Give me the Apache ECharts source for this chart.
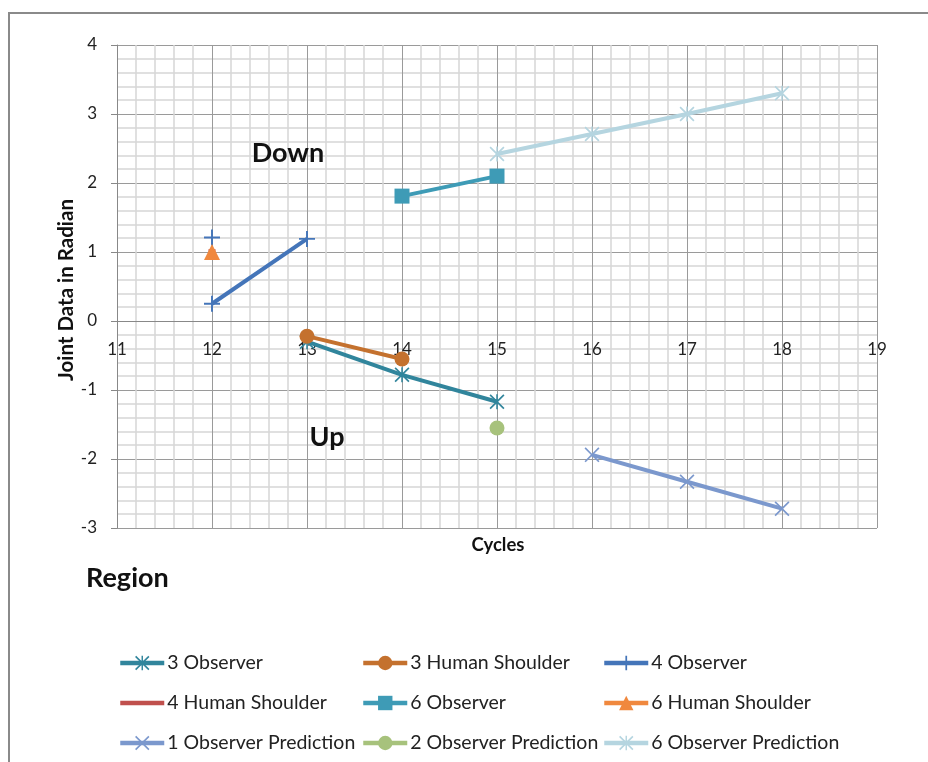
<!DOCTYPE html>
<html><head><meta charset="utf-8">
<script src="https://cdn.jsdelivr.net/npm/echarts@6/dist/echarts.min.js"></script>
<style>html,body{margin:0;padding:0;background:#fff}#c{width:928px;height:762px}</style>
</head><body><div id="c"></div>
<script>
// Data [cycle, radian]
var obs3 = [[13, -0.3], [14, -0.78], [15, -1.17]];
var human3 = [[13, -0.22], [14, -0.55]];
var obs4 = [[12, 1.21], null, [12, 0.25], [13, 1.19]];
var human4 = [[12, 0.99]];
var obs6 = [[14, 1.81], [15, 2.1]];
var human6 = [[12, 1.0]];
var pred1 = [[16, -1.94], [17, -2.33], [18, -2.72]];
var pred2 = [[15, -1.55]];
var pred6 = [[15, 2.42], [16, 2.71], [17, 3.0], [18, 3.3]];
var xTicks = [11, 12, 13, 14, 15, 16, 17, 18, 19];
var yTicks = [-3, -2, -1, 0, 1, 2, 3, 4];
var seriesNames = ['3 Observer', '3 Human Shoulder', '4 Observer', '4 Human Shoulder', '6 Observer', '6 Human Shoulder', '1 Observer Prediction', '2 Observer Prediction', '6 Observer Prediction'];

var PLUS = 'path://M4.4,0H5.6V4.4H10V5.6H5.6V10H4.4V5.6H0V4.4H4.4Z';
var XMARK = 'path://M0,0.8L0.8,0L5,4.2L9.2,0L10,0.8L5.8,5L10,9.2L9.2,10L5,5.8L0.8,10L0,9.2L4.2,5Z';
var STAR = 'path://M0,0.8L0.8,0L5,4.2L9.2,0L10,0.8L5.8,5L10,9.2L9.2,10L5,5.8L0.8,10L0,9.2L4.2,5ZM4.5,0H5.5V10H4.5Z';

var FONT = 'Lato';
function mk(name, data, color, symbol, size) {
  return {
    name: name, type: 'line', data: data, connectNulls: false,
    symbol: symbol, symbolSize: size, showSymbol: true,
    lineStyle: { color: color, width: 4 },
    itemStyle: { color: color },
    emphasis: { disabled: true },
    animation: false
  };
}

var series = [
  mk(seriesNames[0], obs3, '#31859c', STAR, 15),
  mk(seriesNames[1], human3, '#c4712e', 'circle', 15),
  mk(seriesNames[2], obs4, '#4475b9', PLUS, 16),
  mk(seriesNames[3], human4, '#c0504d', 'rect', 7),
  mk(seriesNames[4], obs6, '#3e9bb6', 'rect', 15),
  mk(seriesNames[5], human6, '#f0883e', 'triangle', 16),
  mk(seriesNames[6], pred1, '#7b98cd', XMARK, 15),
  mk(seriesNames[7], pred2, '#a7c27c', 'circle', 15),
  mk(seriesNames[8], pred6, '#b5d5e0', STAR, 15)
];

var colX = [118, 361, 602];
var rowY = [653, 693, 733];
var legends = seriesNames.map(function (n, i) {
  var item = i === 3 ? { name: n, itemStyle: { opacity: 0 } } : n;
  return {
    data: [item],
    left: colX[i % 3], top: rowY[Math.floor(i / 3)], padding: 0,
    itemWidth: 44, itemHeight: 18, itemGap: 0,
    lineStyle: { width: 4.5 },
    textStyle: { fontFamily: FONT, fontSize: 19.5, color: '#222', padding: [0, 0, 0, -2] },
    selectedMode: false
  };
});

var chart = echarts.init(document.getElementById('c'), null, { renderer: 'canvas' });
var option = {
  animation: false,
  backgroundColor: '#fff',
  grid: { left: 117, right: 51, top: 45, bottom: 234, containLabel: false },
  xAxis: {
    type: 'value', min: xTicks[0], max: xTicks[xTicks.length - 1], interval: 1,
    axisLine: { onZero: false, lineStyle: { color: '#888', width: 1 } },
    axisTick: { show: false },
    axisLabel: { margin: 20, fontFamily: FONT, fontSize: 17, color: '#222' },
    splitLine: { show: true, lineStyle: { color: '#9a9a9a', width: 1 } },
    minorTick: { show: false, splitNumber: 5 },
    minorSplitLine: { show: true, lineStyle: { color: '#d6d6d6', width: 1.5 } }
  },
  yAxis: {
    type: 'value', min: yTicks[0], max: yTicks[yTicks.length - 1], interval: 1,
    axisLine: { show: true, onZero: false, lineStyle: { color: '#888', width: 1 } },
    axisTick: { show: true, length: 6, lineStyle: { color: '#888' } },
    axisLabel: { margin: 20, fontFamily: FONT, fontSize: 17, color: '#222' },
    splitLine: { show: true, lineStyle: { color: '#9a9a9a', width: 1 } },
    minorTick: { show: false, splitNumber: 5 },
    minorSplitLine: { show: true, lineStyle: { color: '#d6d6d6', width: 1.5 } }
  },
  legend: legends,
  series: series,
  graphic: [
    { type: 'rect', shape: { x: 9, y: 13, width: 960, height: 800 }, style: { fill: 'none', stroke: '#8a8a8a', lineWidth: 2 }, silent: true, z: -1 },
    { type: 'text', x: 288, y: 153, style: { text: 'Down', fontFamily: FONT, fontWeight: 'bold', fontSize: 27, fill: '#111', align: 'center', verticalAlign: 'middle' }, z: 10 },
    { type: 'text', x: 327, y: 437, style: { text: 'Up', fontFamily: FONT, fontWeight: 'bold', fontSize: 27, fill: '#111', align: 'center', verticalAlign: 'middle' }, z: 10 },
    { type: 'text', x: 498, y: 545, style: { text: 'Cycles', fontFamily: FONT, fontWeight: 'bold', fontSize: 18.5, fill: '#111', align: 'center', verticalAlign: 'middle' } },
    { type: 'text', x: 86, y: 578, style: { text: 'Region', fontFamily: FONT, fontWeight: 'bold', fontSize: 27, fill: '#111', align: 'left', verticalAlign: 'middle' } },
    { type: 'text', x: 66, y: 290, rotation: Math.PI / 2, style: { text: 'Joint Data in Radian', fontFamily: FONT, fontWeight: 'bold', fontSize: 20.5, fill: '#111', align: 'center', verticalAlign: 'middle' } }
  ]
};
chart.setOption(option);
// place the x axis where y = 0 (axis crosses at zero)
var yZero = chart.convertToPixel({ yAxisIndex: 0 }, 0);
var yBottom = chart.convertToPixel({ yAxisIndex: 0 }, yTicks[0]);
chart.setOption({ xAxis: { offset: yZero - yBottom } });
</script></body></html>
